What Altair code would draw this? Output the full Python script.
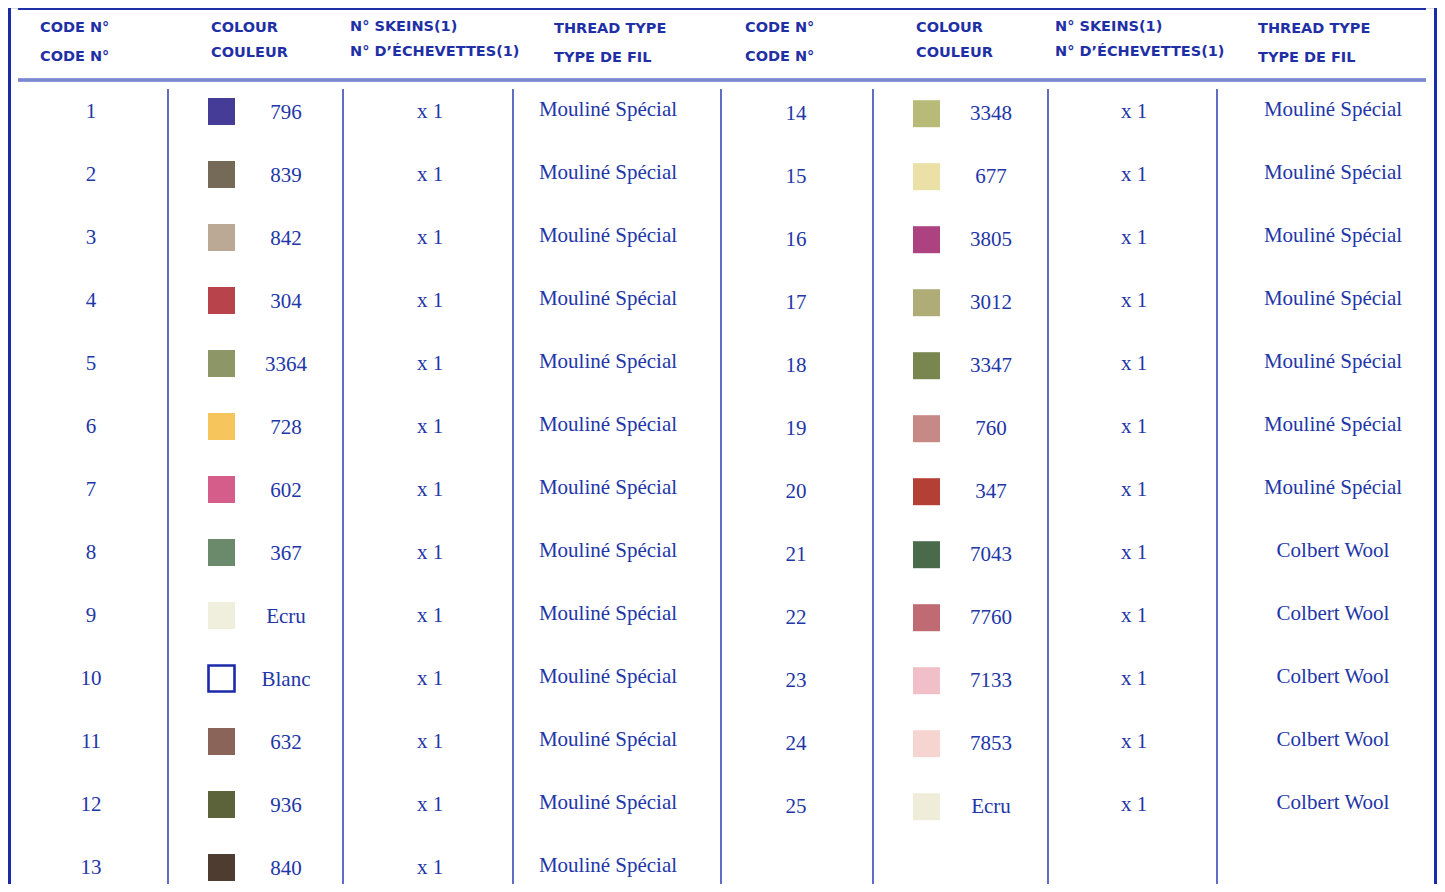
import altair as alt
import pandas as pd

# ---------------- data ----------------
code_numbers = list(range(1, 26))
colour_codes = ["796", "839", "842", "304", "3364", "728", "602", "367", "Ecru", "Blanc",
                "632", "936", "840", "3348", "677", "3805", "3012", "3347", "760", "347",
                "7043", "7760", "7133", "7853", "Ecru"]
swatch_colours = ["#453c98", "#756a58", "#bba995", "#b9434b", "#8c9666", "#f6c55c", "#d45d89",
                  "#6b8a6b", "#f0eedc", "#ffffff", "#8a6359", "#5c633a", "#4e3c30",
                  "#b8bb77", "#ebe0a5", "#ad4281", "#b0ac78", "#798650", "#c68985", "#b44035",
                  "#4a6a4c", "#c06b74", "#f0bfc7", "#f6d5d0", "#efedd9"]
skeins = ["x 1"] * 25
thread_types = ["Mouliné Spécial"] * 20 + ["Colbert Wool"] * 5
header_en = ["CODE N°", "COLOUR", "N° SKEINS(1)", "THREAD TYPE"]
header_fr = ["CODE N°", "COULEUR", "N° D’ÉCHEVETTES(1)", "TYPE DE FIL"]

# ---------------- layout ----------------
W, H = 1429, 876
BLUE = "#1f30a6"
TEXT_BLUE = "#2236a8"
ROWS_PER_SIDE = 13
ROW0, STEP = 103.5, 63.0
col_x = {
    "L": {"code": 83, "swatch": 213.5, "colour": 278, "skeins": 422, "thread": 600},
    "R": {"code": 788, "swatch": 918.5, "colour": 983, "skeins": 1126, "thread": 1325},
}
row_off = {  # small vertical offsets in row units
    "L": {"code": 0.0, "swatch": 0.0, "colour": 0.02, "skeins": 0.0, "thread": -0.03},
    "R": {"code": 0.045, "swatch": 0.035, "colour": 0.045, "skeins": 0.0, "thread": -0.03},
}
header_x = [32, 203, 342, 546, 737, 908, 1047, 1250]
header_y1 = [20, 20, 19, 21]
header_y2 = [49, 45, 44, 50]
sep_x = [160, 335, 505, 713, 865, 1040, 1209]

recs = []
for i in range(25):
    side = "L" if i < ROWS_PER_SIDE else "R"
    row = i if i < ROWS_PER_SIDE else i - ROWS_PER_SIDE
    r = {"code": str(code_numbers[i]), "colour": colour_codes[i], "fill": swatch_colours[i],
         "skeins": skeins[i], "thread": thread_types[i], "row": row, "side": side}
    for k in col_x[side]:
        r["x_" + k] = col_x[side][k]
        r["y_" + k] = row + row_off[side][k]
    recs.append(r)
df = pd.DataFrame(recs)

hdr = []
for j in range(8):
    hdr.append({"x": header_x[j], "y": header_y1[j % 4], "t": header_en[j % 4]})
    hdr.append({"x": header_x[j], "y": header_y2[j % 4], "t": header_fr[j % 4]})
hdf = pd.DataFrame(hdr)
sdf = pd.DataFrame({"x": sep_x})

yscale = alt.Scale(domain=[-ROW0 / STEP, (H - ROW0) / STEP], range=[0, H], zero=False, nice=False)
NOAX = None


def body_text(field, key, **kw):
    return alt.Chart(df).mark_text(font="Liberation Serif", fontSize=21, color=TEXT_BLUE,
                                   baseline="middle", align="center", **kw).encode(
        x=alt.X(f"x_{key}:Q", scale=None, axis=NOAX),
        y=alt.Y(f"y_{key}:Q", scale=yscale, axis=NOAX),
        text=f"{field}:N",
    )


codes_l = body_text("code", "code")
colour_l = body_text("colour", "colour")
skein_l = body_text("skeins", "skeins")
thread_l = body_text("thread", "thread")

swatches = alt.Chart(df).transform_filter("datum.colour != 'Blanc'").mark_square(
    size=729, opacity=1).encode(
    x=alt.X("x_swatch:Q", scale=None, axis=NOAX),
    y=alt.Y("y_swatch:Q", scale=yscale, axis=NOAX),
    fill=alt.Fill("fill:N", scale=None),
)
blanc = alt.Chart(df).transform_filter("datum.colour == 'Blanc'").mark_square(
    size=676, filled=False, strokeWidth=2.6, color="#1a2aa8", opacity=1).encode(
    x=alt.X("x_swatch:Q", scale=None, axis=NOAX),
    y=alt.Y("y_swatch:Q", scale=yscale, axis=NOAX),
)

headers = alt.Chart(hdf).mark_text(font="DejaVu Sans", fontWeight="bold", fontSize=14.5,
                                   color=BLUE, align="left", baseline="middle").encode(
    x=alt.X("x:Q", scale=None, axis=NOAX),
    y=alt.Y("y:Q", scale=None, axis=NOAX),
    text="t:N",
)

seps = alt.Chart(sdf).mark_rule(color=BLUE, strokeWidth=1.4).encode(
    x=alt.X("x:Q", scale=None, axis=NOAX), y=alt.value(81), y2=alt.value(H))

top_line = alt.Chart(sdf).mark_rule(color=BLUE, strokeWidth=1.5).encode(
    x=alt.value(10), x2=alt.value(1418), y=alt.value(0.75))
head_line = alt.Chart(sdf).mark_rule(color="#7b88d0", strokeWidth=2.5).encode(
    x=alt.value(10), x2=alt.value(1418), y=alt.value(72))
left_border = alt.Chart(sdf).mark_rule(color="#1a2aa8", strokeWidth=3).encode(
    x=alt.value(1.5), y=alt.value(0), y2=alt.value(H))
right_border = alt.Chart(sdf).mark_rule(color="#1a2aa8", strokeWidth=3).encode(
    x=alt.value(1427.5), y=alt.value(0), y2=alt.value(H))

chart = alt.layer(
    left_border, right_border, top_line, head_line, seps,
    swatches, blanc, codes_l, colour_l, skein_l, thread_l, headers,
).resolve_scale(x="independent", y="independent").properties(
    width=W, height=H, padding=0,
    autosize=alt.AutoSizeParams(type="none"),
).configure_view(stroke=None).configure(background="white")

chart.save("out.html", embed_options={"renderer": "svg", "actions": False})
